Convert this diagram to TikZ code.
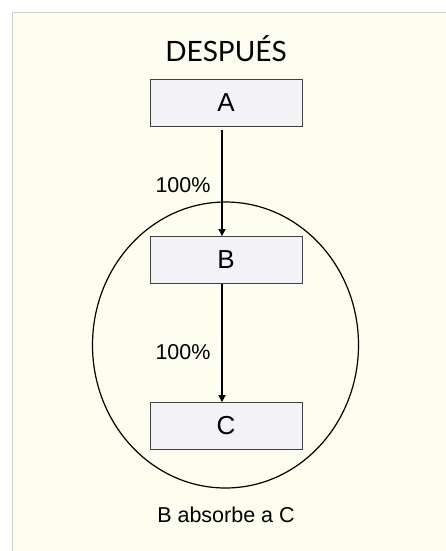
\documentclass[tikz,border=0pt]{standalone}
\usepackage{fontspec}
\usetikzlibrary{arrows.meta}
\setmainfont{Liberation Sans}
\newfontfamily\titlefont{Lato}
\definecolor{panel}{HTML}{FDFDF0}
\definecolor{panelline}{HTML}{D0D0D0}
\definecolor{boxfill}{HTML}{F3F3F7}
\definecolor{boxline}{HTML}{404040}
\begin{document}
\begin{tikzpicture}[x=1pt,y=-1pt,
  entity/.style={draw=boxline, fill=boxfill, line width=0.9pt, minimum width=152pt, minimum height=47pt, inner sep=0pt, font=\fontsize{26}{26}\selectfont},
  flow/.style={draw=black, line width=1.3pt, -{Triangle[length=7pt,width=7pt]}},
  pct/.style={font=\fontsize{21.5}{21.5}\selectfont, inner sep=0pt}]
\useasboundingbox (0,0) rectangle (446,551);
\fill[white] (0,0) rectangle (446,551);
\fill[panel] (12,12) rectangle (446,551);
\draw[panelline, line width=0.8pt] (12,551) -- (12,12) -- (446,12);
\node[font=\titlefont\fontsize{28}{28}\selectfont, inner sep=0pt] (title) at (226,49) {DESPUÉS};
\draw[black, line width=1.2pt] (225.5,345) ellipse [x radius=133, y radius=143];
\node[entity] (A) at (226,102.5) {A};
\node[entity] (B) at (226,260) {B};
\node[entity] (C) at (226,426) {C};
\draw[flow, shorten <=4pt] ([xshift=-4pt]A.south) -- ([xshift=-4pt]B.north);
\draw[flow] ([xshift=-4pt]B.south) -- ([xshift=-4pt]C.north);
\node[pct] (p1) at (183,185) {100\%};
\node[pct] (p2) at (183,352) {100\%};
\node[font=\fontsize{21.5}{21.5}\selectfont, inner sep=0pt] (cap) at (226,515) {B absorbe a C};
\end{tikzpicture}
\end{document}
